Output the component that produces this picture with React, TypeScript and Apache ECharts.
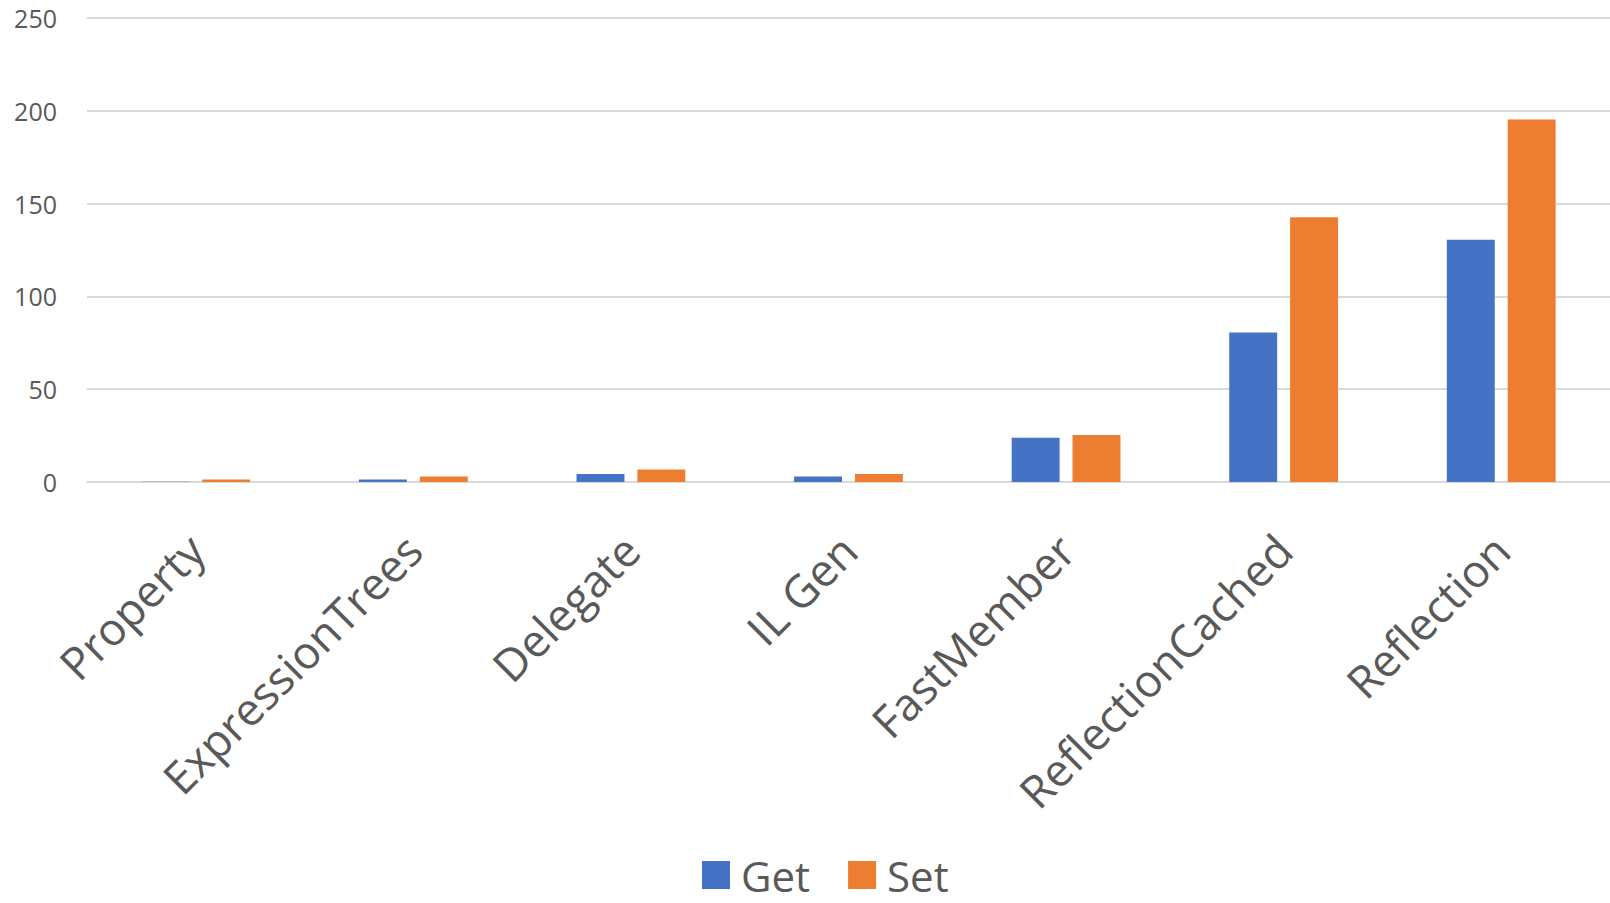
import React, { useEffect, useRef } from "react";
import * as echarts from "echarts";

// Benchmark categories (member access strategies)
const categories = [
  "Property",
  "ExpressionTrees",
  "Delegate",
  "IL Gen",
  "FastMember",
  "ReflectionCached",
  "Reflection",
];

// Timings per strategy
const getValues = [0.2, 1.3, 4.3, 2.9, 23.9, 80.5, 130.5];
const setValues = [1.4, 2.9, 6.8, 4.3, 25.3, 142.6, 195.3];

const seriesNames = ["Get", "Set"];
const seriesColors = ["#4472C4", "#ED7D31"];

const yMin = 0;
const yMax = 250;
const yInterval = 50;

const textColor = "#595959";
const fontFamily = "'Open Sans', 'Noto Sans', sans-serif";

export default function App() {
  const ref = useRef<HTMLDivElement>(null);

  useEffect(() => {
    if (!ref.current) return;
    const chart = echarts.init(ref.current, undefined, { renderer: "svg" });
    chart.setOption({
      animation: false,
      backgroundColor: "#ffffff",
      color: seriesColors,
      textStyle: { fontFamily, color: textColor },
      grid: {
        left: 87,
        right: 0,
        top: 18,
        bottom: 421,
        containLabel: false,
      },
      legend: {
        top: 854,
        left: 702,
        padding: 0,
        itemWidth: 28,
        itemHeight: 28,
        itemGap: 38,
        icon: "rect",
        textStyle: {
          fontFamily,
          fontSize: 42,
          lineHeight: 42,
          color: textColor,
          padding: [0, 0, 0, 6],
        },
        data: seriesNames,
      },
      xAxis: {
        type: "category",
        data: categories,
        axisLine: { show: true, lineStyle: { color: "#d9d9d9", width: 2 } },
        axisTick: { show: false },
        axisLabel: {
          rotate: 45,
          interval: 0,
          margin: 60,
          fontSize: 45,
          color: textColor,
          fontFamily,
        },
      },
      yAxis: {
        type: "value",
        min: yMin,
        max: yMax,
        interval: yInterval,
        axisLine: { show: false },
        axisTick: { show: false },
        splitLine: { lineStyle: { color: "#d9d9d9", width: 2 } },
        axisLabel: {
          margin: 30,
          fontSize: 25,
          color: textColor,
          fontFamily,
        },
      },
      series: [
        {
          name: seriesNames[0],
          type: "bar",
          data: getValues,
          barGap: "27%",
          barCategoryGap: "50%",
        },
        {
          name: seriesNames[1],
          type: "bar",
          data: setValues,
          barGap: "27%",
          barCategoryGap: "50%",
        },
      ],
    });
    return () => chart.dispose();
  }, []);

  return (
    <div
      ref={ref}
      style={{ position: "fixed", left: 0, top: 0, width: 1610, height: 903 }}
    />
  );
}
